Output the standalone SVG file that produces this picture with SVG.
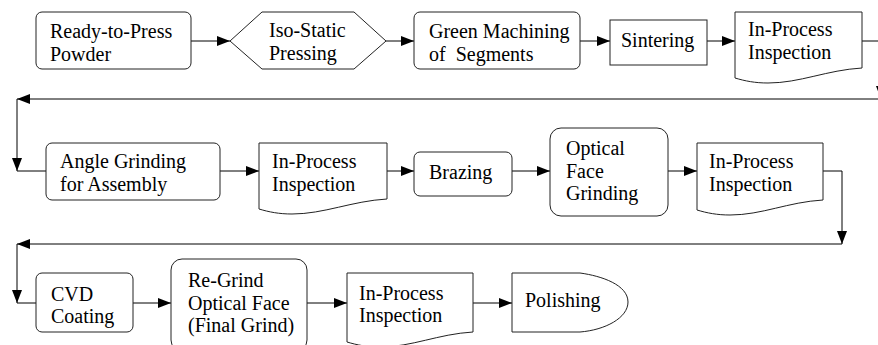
<svg xmlns="http://www.w3.org/2000/svg" width="878" height="345" viewBox="0 0 878 345">
<style>
.s{fill:#fff;stroke:#222;stroke-width:1}
.c{fill:none;stroke:#000;stroke-width:1}
</style>
<defs>
<marker id="a" markerUnits="userSpaceOnUse" markerWidth="14" markerHeight="12" refX="13" refY="5" orient="auto">
<path d="M0,0 L13,5 L0,10 Z" fill="#000"/>
</marker>
</defs>
<rect width="878" height="345" fill="#fff"/>
<g id="connectors">
<line class="c" x1="191" y1="41" x2="230" y2="41" marker-end="url(#a)"/>
<line class="c" x1="386" y1="41" x2="414" y2="41" marker-end="url(#a)"/>
<line class="c" x1="580" y1="41" x2="610" y2="41" marker-end="url(#a)"/>
<line class="c" x1="707" y1="41" x2="735" y2="41" marker-end="url(#a)"/>
<polyline class="c" points="862,41 881,41 881,99" marker-end="url(#a)"/>
<line class="c" x1="881" y1="99" x2="17" y2="99" marker-end="url(#a)"/>
<line class="c" x1="17" y1="99" x2="17" y2="171" marker-end="url(#a)"/>
<line class="c" x1="17" y1="171" x2="46" y2="171"/>
<line class="c" x1="220" y1="171" x2="259" y2="171" marker-end="url(#a)"/>
<line class="c" x1="387" y1="171" x2="414" y2="171" marker-end="url(#a)"/>
<line class="c" x1="512" y1="171" x2="550" y2="171" marker-end="url(#a)"/>
<line class="c" x1="668" y1="171" x2="697" y2="171" marker-end="url(#a)"/>
<polyline class="c" points="823,171 842,171 842,244" marker-end="url(#a)"/>
<line class="c" x1="842" y1="244" x2="17" y2="244" marker-end="url(#a)"/>
<line class="c" x1="17" y1="244" x2="17" y2="303" marker-end="url(#a)"/>
<line class="c" x1="17" y1="303" x2="36" y2="303"/>
<line class="c" x1="133" y1="303" x2="171" y2="303" marker-end="url(#a)"/>
<line class="c" x1="307" y1="303" x2="347" y2="303" marker-end="url(#a)"/>
<line class="c" x1="473" y1="303" x2="512" y2="303" marker-end="url(#a)"/>
</g>
<g font-family="Liberation Serif, serif" font-size="20" fill="#000">
<g id="n1">
<rect class="s" x="36" y="12" width="155" height="57" rx="6"/>
<text x="50" y="38">Ready-to-Press</text>
<text x="50" y="61">Powder</text>
</g>
<g id="n2">
<polygon class="s" points="230,41 262,12 354,12 386,41 354,69 262,69"/>
<text x="269" y="37">Iso-Static</text>
<text x="269" y="60">Pressing</text>
</g>
<g id="n3">
<rect class="s" x="414" y="12" width="166" height="57" rx="6"/>
<text x="429" y="38">Green Machining</text>
<text x="429" y="61" xml:space="preserve">of  Segments</text>
</g>
<g id="n4">
<rect class="s" x="610" y="20" width="97" height="45"/>
<text x="621" y="47">Sintering</text>
</g>
<g id="n5">
<path class="s" d="M735,12 H862 V68 C827,70 800,83 768,83 C755,83 745,81 735,78 Z"/>
<text x="748" y="36">In-Process</text>
<text x="748" y="59">Inspection</text>
</g>
<g id="n6">
<rect class="s" x="46" y="143" width="174" height="57" rx="6"/>
<text x="60" y="168">Angle Grinding</text>
<text x="60" y="191">for Assembly</text>
</g>
<g id="n7">
<path class="s" d="M259,143 H387 V199 C352,201 324,214 292,214 C279,214 269,212 259,209 Z"/>
<text x="272" y="168">In-Process</text>
<text x="272" y="191">Inspection</text>
</g>
<g id="n8">
<rect class="s" x="414" y="152" width="98" height="44" rx="6"/>
<text x="429" y="179">Brazing</text>
</g>
<g id="n9">
<rect class="s" x="550" y="128" width="118" height="88" rx="11"/>
<text x="566" y="155">Optical</text>
<text x="566" y="178">Face</text>
<text x="566" y="200">Grinding</text>
</g>
<g id="n10">
<path class="s" d="M697,143 H823 V200 C788,202 762,215 730,215 C717,215 707,213 697,210 Z"/>
<text x="709" y="168">In-Process</text>
<text x="709" y="191">Inspection</text>
</g>
<g id="n11">
<rect class="s" x="36" y="273" width="97" height="59" rx="6"/>
<text x="51" y="301">CVD</text>
<text x="51" y="323">Coating</text>
</g>
<g id="n12">
<rect class="s" x="171" y="259" width="136" height="92" rx="11"/>
<text x="188" y="287">Re-Grind</text>
<text x="188" y="310">Optical Face</text>
<text x="188" y="332">(Final Grind)</text>
</g>
<g id="n13">
<path class="s" d="M347,273 H473 V332 C438,334 412,347 380,347 C367,347 357,345 347,342 Z"/>
<text x="359" y="300">In-Process</text>
<text x="359" y="322">Inspection</text>
</g>
<g id="n14">
<path class="s" d="M512,273 H580 C602,276 628,285 628,302 C628,318 605,330 580,332 H512 Z"/>
<text x="525" y="307">Polishing</text>
</g>
</g>
</svg>
